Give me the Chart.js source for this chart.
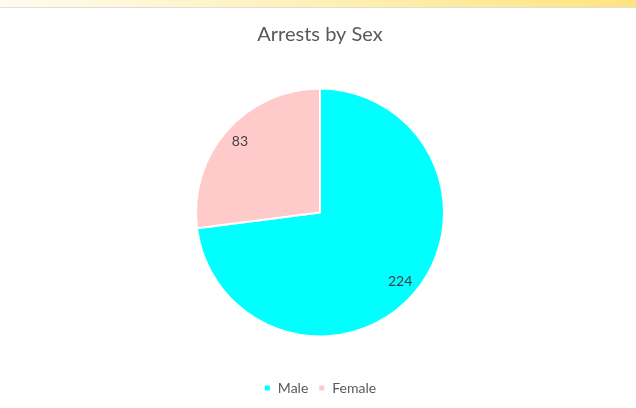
<!DOCTYPE html>
<html>
<head>
<meta charset="utf-8">
<script src="https://cdn.jsdelivr.net/npm/chart.js@4.4.0/dist/chart.umd.min.js"></script>
<style>
  html, body { margin: 0; padding: 0; background: #fff; }
  #wrap { position: relative; width: 636px; height: 408px; }
  #band { position: absolute; left: 0; top: 0; width: 636px; height: 7px;
          background: linear-gradient(to right, #fffcef, #ffe47f);
          border-bottom: 1px solid #dedede; }
  canvas { position: absolute; left: 0; top: 0; }
</style>
</head>
<body>
<div id="wrap">
  <canvas id="grafica" width="636" height="408"></canvas>
  <div id="band"></div>
</div>
<script>
// datos del grafico
var categorias = ['Male', 'Female'];
var arrestos = [224, 83];
var colores = ['#00ffff', '#ffcaca'];

// etiquetas de valor dentro de cada porcion
var etiquetasPlugin = {
  id: 'etiquetas',
  afterDatasetsDraw: function(chart) {
    var ctx = chart.ctx;
    var meta = chart.getDatasetMeta(0);
    ctx.save();
    ctx.font = '14px Lato, "Open Sans", sans-serif';
    ctx.fillStyle = '#404040';
    ctx.textAlign = 'center';
    ctx.textBaseline = 'middle';
    meta.data.forEach(function(arc, i) {
      var p = arc.getProps(['x', 'y', 'startAngle', 'endAngle', 'outerRadius'], true);
      var medio = (p.startAngle + p.endAngle) / 2;
      var r = p.outerRadius * 0.86;
      ctx.fillText(arrestos[i], p.x + Math.cos(medio) * r, p.y + Math.sin(medio) * r - 1);
    });
    ctx.restore();
  }
};

var ctx = document.getElementById('grafica').getContext('2d');
var grafica = new Chart(ctx, {
  type: 'pie',
  data: {
    labels: categorias,
    datasets: [{
      data: arrestos,
      backgroundColor: colores,
      borderColor: '#ffffff',
      borderWidth: 2,
      radius: 124
    }]
  },
  options: {
    responsive: false,
    animation: false,
    layout: { padding: { left: 4, right: 0, top: 0, bottom: 3 } },
    plugins: {
      title: {
        display: true,
        text: 'Arrests by Sex',
        color: '#595959',
        font: { family: 'Lato, "Open Sans", sans-serif', size: 20, weight: 'normal' },
        padding: { top: 23, bottom: 7 }
      },
      legend: {
        position: 'bottom',
        labels: {
          color: '#595959',
          font: { family: 'Lato, "Open Sans", sans-serif', size: 14 },
          usePointStyle: true,
          pointStyle: 'rect',
          boxWidth: 7,
          boxHeight: 7,
          padding: 10
        }
      },
      tooltip: { enabled: false }
    }
  },
  plugins: [etiquetasPlugin]
});
</script>
</body>
</html>
